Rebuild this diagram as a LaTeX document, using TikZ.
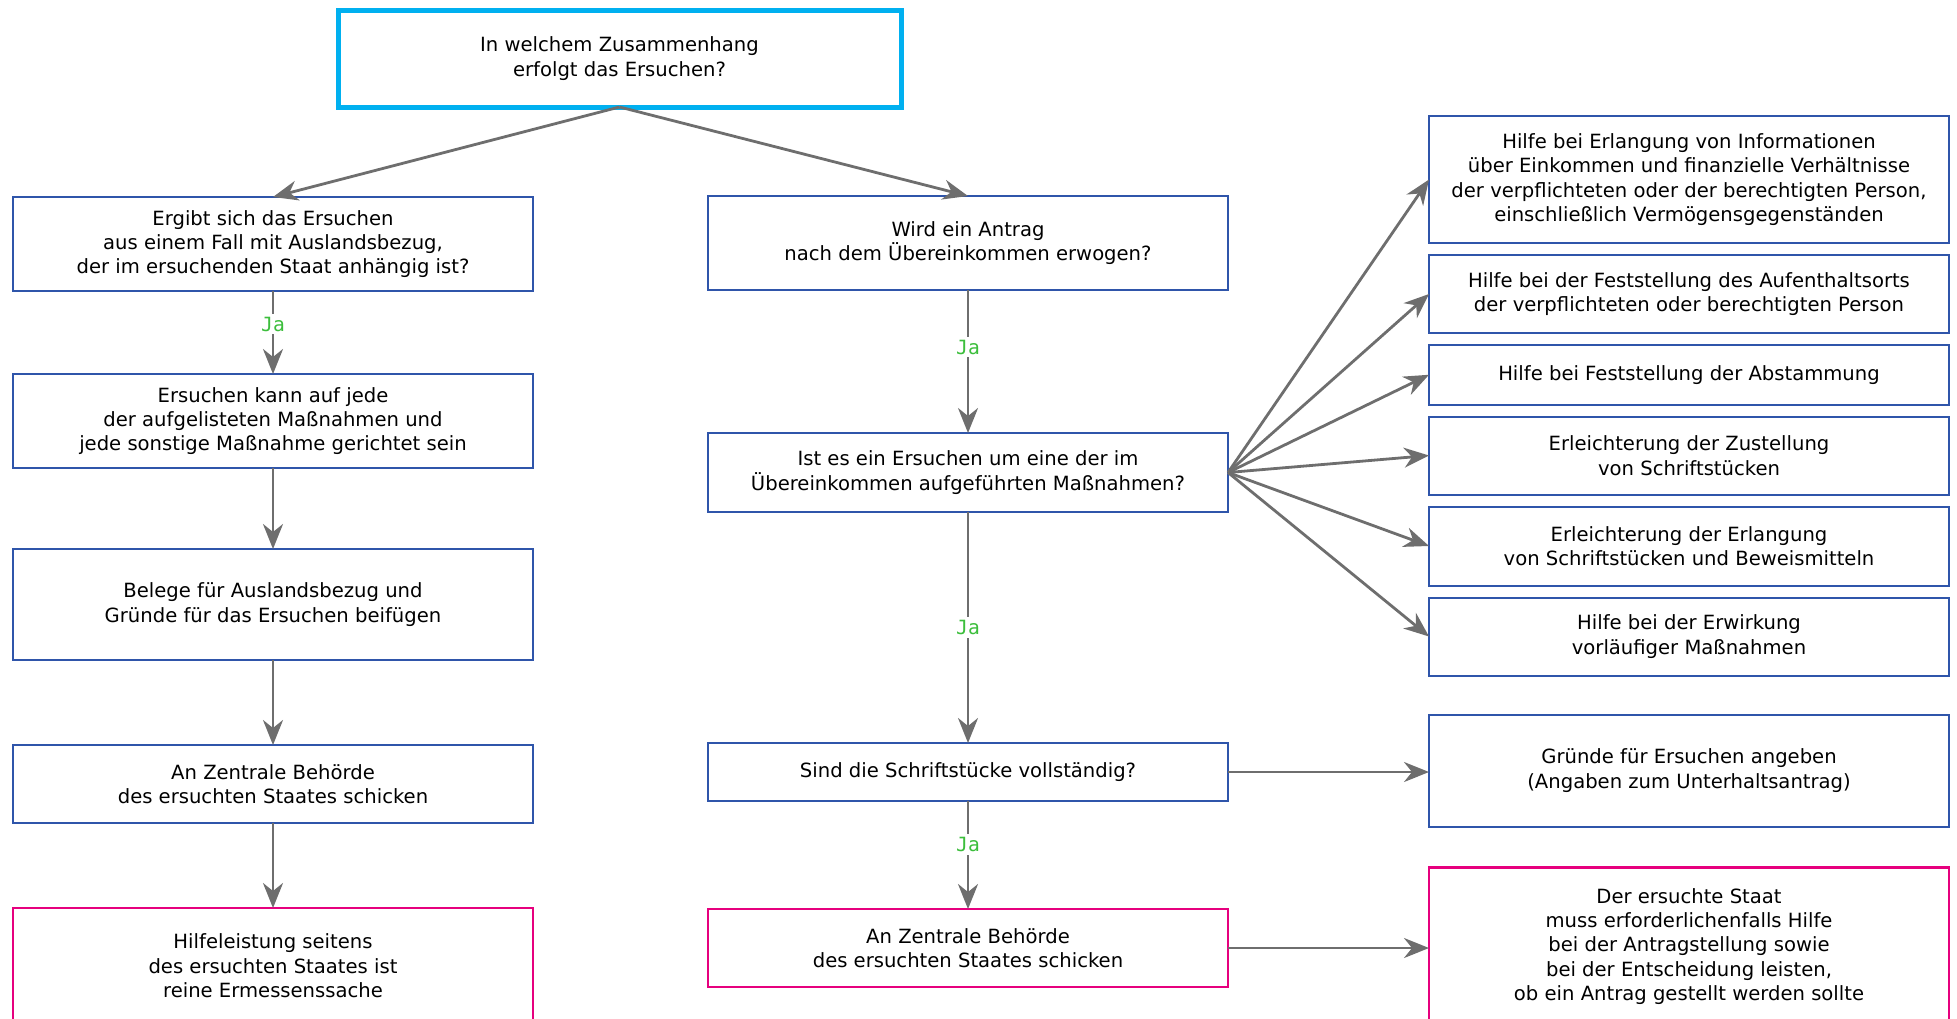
\documentclass[tikz,border=0pt]{standalone}
\usepackage{fontspec}
\setmainfont{DejaVu Sans}
\setmonofont{DejaVu Sans Mono}
\usepackage{xcolor}
\usepackage{tikz}
\usetikzlibrary{positioning,arrows.meta}
\definecolor{boxblue}{RGB}{47,85,170}
\definecolor{boxpink}{RGB}{230,0,126}
\definecolor{boxcyan}{RGB}{0,176,240}
\definecolor{arrowgray}{RGB}{110,110,110}
\definecolor{jagreen}{RGB}{60,190,60}
\pgfkeys{tikz/mybox/.style={draw=boxblue,line width=1pt,outer sep=0pt,align=center,minimum width=260pt,inner sep=2pt,font=\fontsize{9.8}{12.2}\selectfont}}
\pgfkeys{tikz/mypink/.style={mybox,draw=boxpink,line width=1.4pt}}
\pgfkeys{tikz/mytop/.style={mybox,draw=boxcyan,line width=2.5pt,minimum width=281.5pt,minimum height=48.5pt}}
\pgfkeys{tikz/myarrow/.style={-{Stealth[length=12.5pt,width=10pt,inset=4pt]},line width=1.4pt,draw=arrowgray,fill=arrowgray}}
\pgfkeys{tikz/myja/.style={fill=white,text=jagreen,font=\ttfamily\fontsize{9.8}{12}\selectfont,inner sep=1.5pt}}

\begin{document}
\begin{tikzpicture}[node distance=6pt]
  \clip (0,0) rectangle (978.5pt,-509pt);
  \node[mytop] (q0) at (309.75pt,-29.25pt) {In welchem Zusammenhang\\erfolgt das Ersuchen?};

  % left column
  \node[mybox,minimum height=47pt] (l1) at (136.5pt,-122pt) {Ergibt sich das Ersuchen\\aus einem Fall mit Auslandsbezug,\\der im ersuchenden Staat anhängig ist?};
  \node[mybox,minimum height=47pt,below=41.5pt of l1] (l2) {Ersuchen kann auf jede\\der aufgelisteten Maßnahmen und\\jede sonstige Maßnahme gerichtet sein};
  \node[mybox,minimum height=55.5pt,below=40.5pt of l2] (l3) {Belege für Auslandsbezug und\\Gründe für das Ersuchen beifügen};
  \node[mybox,minimum height=39pt,below=42.5pt of l3] (l4) {An Zentrale Behörde\\des ersuchten Staates schicken};
  \node[mypink,minimum height=58pt,below=42.5pt of l4] (l5) {Hilfeleistung seitens\\des ersuchten Staates ist\\reine Ermessenssache};

  % middle column
  \node[mybox,minimum height=47pt] (m1) at (484pt,-121.5pt) {Wird ein Antrag\\nach dem Übereinkommen erwogen?};
  \node[mybox,minimum height=39.5pt,below=71.5pt of m1] (m2) {Ist es ein Ersuchen um eine der im\\Übereinkommen aufgeführten Maßnahmen?};
  \node[mybox,minimum height=29pt,below=115.5pt of m2] (m3) {Sind die Schriftstücke vollständig?};
  \node[mypink,minimum height=39pt,below=54pt of m3] (m4) {An Zentrale Behörde\\des ersuchten Staates schicken};

  % right column
  \node[mybox,minimum height=63.5pt] (r1) at (844.5pt,-89.75pt) {Hilfe bei Erlangung von Informationen\\über Einkommen und finanzielle Verhältnisse\\der verpflichteten oder der berechtigten Person,\\einschließlich Vermögensgegenständen};
  \node[mybox,minimum height=39pt,below=of r1] (r2) {Hilfe bei der Feststellung des Aufenthaltsorts\\der verpflichteten oder berechtigten Person};
  \node[mybox,minimum height=29.75pt,below=of r2] (r3) {Hilfe bei Feststellung der Abstammung};
  \node[mybox,minimum height=39pt,below=of r3] (r4) {Erleichterung der Zustellung\\von Schriftstücken};
  \node[mybox,minimum height=39.5pt,below=of r4] (r5) {Erleichterung der Erlangung\\von Schriftstücken und Beweismitteln};
  \node[mybox,minimum height=39pt,below=of r5] (r6) {Hilfe bei der Erwirkung\\vorläufiger Maßnahmen};
  \node[mybox,minimum height=56pt,below=19.5pt of r6] (r7) {Gründe für Ersuchen angeben\\(Angaben zum Unterhaltsantrag)};
  \node[mypink,minimum height=79pt,below=20.5pt of r7] (r8) {Der ersuchte Staat\\muss erforderlichenfalls Hilfe\\bei der Antragstellung sowie\\bei der Entscheidung leisten,\\ob ein Antrag gestellt werden sollte};

  \draw[myarrow] (q0.south) -- (l1.north);
  \draw[myarrow] (q0.south) -- (m1.north);

  \draw[myarrow] (l1) -- node[myja,pos=0.4] {Ja} (l2);
  \draw[myarrow] (l2) -- (l3);
  \draw[myarrow] (l3) -- (l4);
  \draw[myarrow] (l4) -- (l5);

  \draw[myarrow] (m1) -- node[myja,pos=0.4] {Ja} (m2);
  \draw[myarrow] (m2) -- node[myja] {Ja} (m3);
  \draw[myarrow] (m3) -- node[myja,pos=0.4] {Ja} (m4);

  \foreach \i in {1,...,6}
    \draw[myarrow] (m2.east) -- (r\i.west);
  \draw[myarrow] (m3.east) -- (m3.east -| r7.west);
  \draw[myarrow] (m4.east) -- (m4.east -| r8.west);
\end{tikzpicture}
\end{document}
